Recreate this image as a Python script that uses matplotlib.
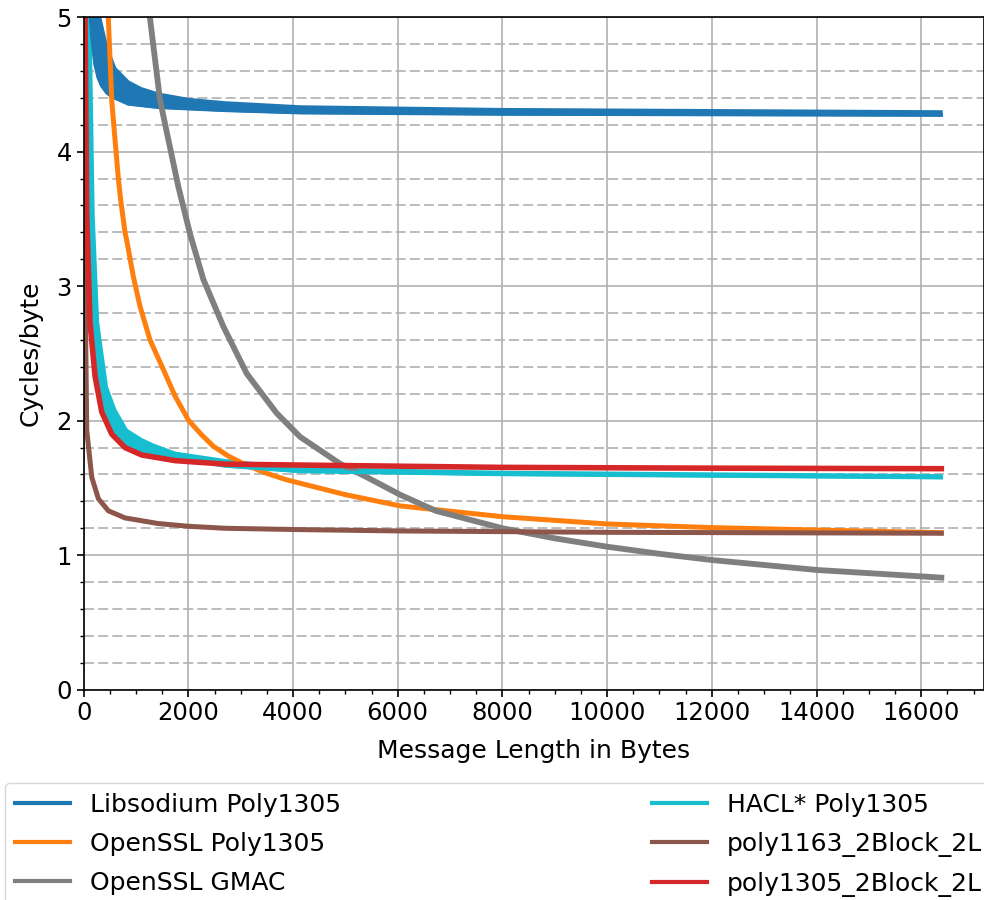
import matplotlib
matplotlib.use('Agg')
import matplotlib.pyplot as plt
import numpy as np

# valores (bytes, cycles/byte)

# Libsodium: faixa larga -> borda superior e inferior
LIBSODIUM_HI_X = [281, 441, 600, 854, 1100, 1427, 2000, 2701, 4134, 7954, 16384]
LIBSODIUM_HI_Y = [5.05, 4.78, 4.62, 4.52, 4.47, 4.43, 4.39, 4.365, 4.335, 4.315, 4.298]
LIBSODIUM_LO_X = [122, 160, 218, 280, 346, 440, 537, 854, 1427, 2701, 4134, 7954, 16384]
LIBSODIUM_LO_Y = [5.05, 4.85, 4.65, 4.55, 4.49, 4.44, 4.41, 4.355, 4.33, 4.307, 4.29, 4.28, 4.272]

OPENSSL_X = [440, 472, 537, 619, 663, 708, 791, 823, 950, 1077, 1268, 1523, 1750, 2000,
             2240, 2478, 2750, 3051, 3450, 3880, 5000, 6052, 8002, 10000, 12000, 14006, 16384]
OPENSSL_Y = [5.4, 4.99, 4.38, 4.0, 3.80, 3.64, 3.40, 3.34, 3.07, 2.85, 2.60, 2.38, 2.18, 2.005,
             1.90, 1.81, 1.74, 1.68, 1.615, 1.56, 1.45, 1.366, 1.286, 1.232, 1.205, 1.187, 1.167]

GMAC_X = [1230, 1268, 1459, 1618, 1809, 2032, 2287, 2669, 3116, 3689, 4134, 4898,
          5408, 6052, 6726, 8002, 9000, 10000, 11000, 12000, 14006, 16384]
GMAC_Y = [5.2, 4.99, 4.385, 4.09, 3.74, 3.39, 3.05, 2.70, 2.35, 2.055, 1.88, 1.68,
          1.58, 1.448, 1.33, 1.20, 1.125, 1.063, 1.01, 0.964, 0.89, 0.833]

# HACL*: tambem uma faixa
HACL_HI_X = [122, 185, 270, 440, 600, 823, 1109, 1331, 1746, 2701, 4134, 7954, 16384]
HACL_HI_Y = [5.05, 3.53, 2.73, 2.25, 2.08, 1.93, 1.86, 1.82, 1.76, 1.705, 1.645, 1.618, 1.592]
HACL_LO_X = [65, 122, 166, 281, 441, 590, 1013, 1969, 2701, 4134, 7954, 16384]
HACL_LO_Y = [5.05, 3.53, 2.73, 2.25, 2.03, 1.88, 1.77, 1.71, 1.663, 1.622, 1.60, 1.576]

POLY1163_X = [8, 27, 59, 155, 281, 472, 791, 1427, 2000, 2701, 4134, 6052, 10000, 16384]
POLY1163_Y = [6.0, 3.05, 1.93, 1.58, 1.42, 1.33, 1.277, 1.235, 1.215, 1.20, 1.19, 1.18, 1.17, 1.163]

POLY1305_X = [16, 27, 59, 122, 218, 346, 537, 791, 1109, 1746, 2701, 4134, 7954, 12000, 16384]
POLY1305_Y = [6.5, 5.0, 3.53, 2.73, 2.33, 2.065, 1.90, 1.80, 1.745, 1.703, 1.677, 1.67, 1.653, 1.647, 1.643]

LABELS = ["Libsodium Poly1305", "OpenSSL Poly1305", "OpenSSL GMAC",
          "HACL* Poly1305", "poly1163_2Block_2L", "poly1305_2Block_2L"]

COLORS = ["#1f77b4", "#ff7f0e", "#7f7f7f", "#17becf", "#8c564b", "#d62728"]

fonte = 18
fonte_ticks = 17.5
linewidth = 3.6


def faixa(ax, hx, hy, lx, ly, cor, label):
	px = np.concatenate([hx, lx[::-1]])
	py = np.concatenate([hy, ly[::-1]])
	ax.fill(px, py, color=cor, linewidth=2)
	ax.plot(lx, ly, color=cor, linewidth=2.5, label=label)


def plot_cycles():
	fig = plt.figure(figsize=(9.84, 9.0), dpi=100)
	ax = fig.add_axes([0.085, 0.2337, 0.9152, 0.7472])

	faixa(ax, LIBSODIUM_HI_X, LIBSODIUM_HI_Y, LIBSODIUM_LO_X, LIBSODIUM_LO_Y, COLORS[0], LABELS[0])
	ax.plot(OPENSSL_X, OPENSSL_Y, color=COLORS[1], linewidth=linewidth, label=LABELS[1])
	ax.plot(GMAC_X, GMAC_Y, color=COLORS[2], linewidth=linewidth + 0.6, label=LABELS[2])
	faixa(ax, HACL_HI_X, HACL_HI_Y, HACL_LO_X, HACL_LO_Y, COLORS[3], LABELS[3])
	ax.plot(POLY1163_X, POLY1163_Y, color=COLORS[4], linewidth=linewidth, label=LABELS[4])
	ax.plot(POLY1305_X, POLY1305_Y, color=COLORS[5], linewidth=linewidth + 0.4, label=LABELS[5])

	ax.set_xlim(0, 16384 * 1.05)
	ax.set_ylim(0, 5)

	ax.set_xticks(np.arange(0, 16001, 2000))
	ax.set_xticks(np.arange(0, 17001, 500), minor=True)
	ax.set_yticks(np.arange(0, 5.1, 1))
	ax.set_yticks(np.arange(0, 5.01, 0.2), minor=True)

	ax.grid(which='major', color='#b0b0b0', linestyle='-', linewidth=1.2)
	ax.grid(which='minor', axis='y', color='#b0b0b0', linestyle=(0, (6, 2.5)), linewidth=1.2)
	ax.set_axisbelow(True)

	ax.tick_params(axis='both', which='major', labelsize=fonte_ticks, length=5, width=1.2)
	ax.tick_params(axis='both', which='minor', length=3, width=1.0)
	for s in ax.spines.values():
		s.set_linewidth(1.2)

	ax.set_xlabel('Message Length in Bytes', fontsize=fonte)
	ax.set_ylabel('Cycles/byte', fontsize=fonte)
	ax.xaxis.set_label_coords(0.5, -0.073)
	ax.yaxis.set_label_coords(-0.046, 0.5)

	leg = fig.legend(
		loc='upper left',
		bbox_to_anchor=(0.005, 0.13, 1.003, 0.0),
		bbox_transform=fig.transFigure,
		ncol=2,
		mode='expand',
		fontsize=fonte,
		handlelength=2.2,
		labelspacing=0.6,
		borderaxespad=0
		)
	for line in leg.get_lines():
		line.set_linewidth(3)

	fig.savefig('out.png', dpi=100)
	plt.close()


if __name__ == "__main__":
	plot_cycles()
